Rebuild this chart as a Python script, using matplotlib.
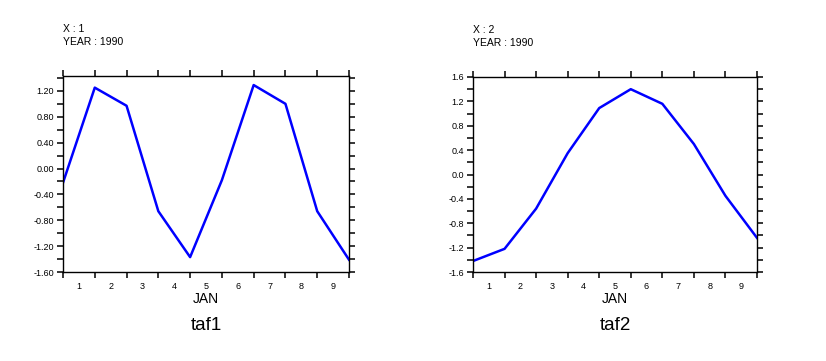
import numpy as np
from matplotlib import pyplot as plt
from matplotlib.ticker import MultipleLocator, FixedLocator, FixedFormatter

plt.rcParams['font.family'] = ['Liberation Sans', 'DejaVu Sans']

#%% Data

days = np.arange(0, 10)
day_labels = ['1', '2', '3', '4', '5', '6', '7', '8', '9']

taf1 = [-0.22, 1.25, 0.97, -0.66, -1.37, -0.18, 1.29, 1.00, -0.66, -1.41]
taf2 = [-1.42, -1.22, -0.56, 0.35, 1.09, 1.40, 1.16, 0.50, -0.35, -1.04]

panels = [
    dict(name='taf1', x='X : 1', y=taf1, ylim=(-1.6, 1.43), fmt='%.2f'),
    dict(name='taf2', x='X : 2', y=taf2, ylim=(-1.6, 1.6), fmt='%.1f'),
]

#%% Plot

W, H = 826, 361
fig = plt.figure(figsize=(W / 100, H / 100), dpi=100)

boxes = [(63, 349, 76, 272), (473, 757, 77, 272)]


def make_fmt(fmt):
    return lambda v, pos: fmt % (0.0 if abs(v) < 1e-9 else v)


for p, (x0, x1, y0, y1) in zip(panels, boxes):
    ax = fig.add_axes([x0 / W, 1 - y1 / H, (x1 - x0) / W, (y1 - y0) / H])
    ax.plot(days, p['y'], color='#0000ff', lw=1.8)
    ax.set_xlim(0, 9)
    ax.set_ylim(*p['ylim'])

    # major x ticks at day boundaries, labels in between
    ax.xaxis.set_major_locator(FixedLocator(days))
    ax.xaxis.set_major_formatter(FixedFormatter([''] * len(days)))
    ax.xaxis.set_minor_locator(FixedLocator(days[:-1] + 0.5))
    ax.xaxis.set_minor_formatter(FixedFormatter(day_labels))
    ax.tick_params(axis='x', which='minor', length=0, labelsize=6.5, pad=7.5)

    ax.yaxis.set_major_locator(MultipleLocator(0.4))
    ax.yaxis.set_minor_locator(MultipleLocator(0.2))
    ax.yaxis.set_major_formatter(make_fmt(p['fmt']))

    ax.tick_params(axis='x', which='major', direction='out', length=4.5, width=1.1,
                   top=True, bottom=True)
    ax.tick_params(axis='y', which='both', direction='out', length=4.5, width=1.1,
                   left=True, right=True, labelsize=6.5, pad=2)

    for s in ax.spines.values():
        s.set_linewidth(1.0)

    xc = (x0 + x1) / 2 / W
    fig.text(xc, 1 - 299 / H, 'JAN', fontsize=10, ha='center', va='center')
    ax.text(0, 1.0 + 42 / (y1 - y0), p['x'], transform=ax.transAxes, fontsize=7.5, va='bottom')
    ax.text(0, 1.0 + 29 / (y1 - y0), 'YEAR : 1990', transform=ax.transAxes, fontsize=7.5,
            va='bottom')
    fig.text(xc, 1 - 325 / H, p['name'], fontsize=13.5, ha='center', va='center')

plt.savefig('out.png', dpi=100)
